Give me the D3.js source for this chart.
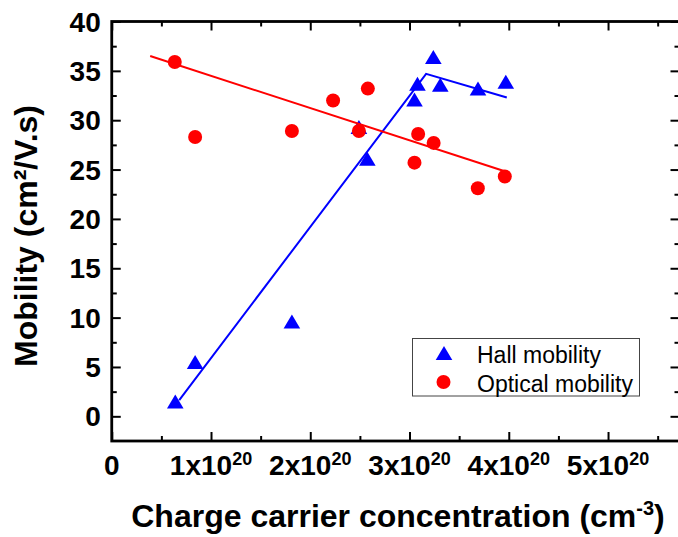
<!DOCTYPE html>
<html><head><meta charset="utf-8">
<script src="https://cdn.jsdelivr.net/npm/d3@7"></script>
<style>html,body{margin:0;padding:0;background:#fff;}svg{display:block;}</style>
</head><body>
<svg id="chart" width="678" height="537"></svg>
<script>
// Data (x in units of 1e20 cm^-3, y in cm²/V.s)
const hallX = [0.64, 0.84, 1.815, 2.49, 2.575, 3.05, 3.08, 3.24, 3.31, 3.69, 3.97];
const hallY = [1.5, 5.5, 9.6, 29.3, 26.1, 32.1, 33.7, 36.4, 33.6, 33.2, 33.9];
const optX = [0.635, 0.84, 1.815, 2.23, 2.49, 2.58, 3.05, 3.087, 3.243, 3.688, 3.96];
const optY = [35.9, 28.3, 28.9, 32.0, 28.9, 33.2, 25.7, 28.6, 27.7, 23.1, 24.3];
const hallFitX = [0.68, 3.167, 3.98];
const hallFitY = [1.65, 34.7, 32.3];
const optFitX = [0.387, 3.967];
const optFitY = [36.5, 24.8];
const xTicks = [0, 1, 2, 3, 4, 5];
const xTickLabels = ["0", "1x10|20", "2x10|20", "3x10|20", "4x10|20", "5x10|20"];
const yTicks = [0, 5, 10, 15, 20, 25, 30, 35, 40];
const legendLabels = ["Hall mobility", "Optical mobility"];

const svg = d3.select("#chart");
const pL = 111.75, pR = 679.5, pT = 21.5, pB = 441;
const x = d3.scaleLinear().domain([0, 5.72]).range([pL, pR]);
const y = d3.scaleLinear().domain([-2.5, 40]).range([pB, pT]);
const FONT = "'Liberation Sans', Arial, sans-serif";

const majX = d3.range(0, 5.6, 1), minX = d3.range(0.5, 5.6, 1);
const majY = d3.range(0, 40.1, 5), minY = d3.range(2.5, 40, 5);

const g = svg.append("g");
function axisG(axis, tr) {
  const a = g.append("g").attr("transform", tr).call(axis);
  a.select(".domain").remove();
  a.selectAll("text").remove();
  a.selectAll("line").attr("stroke", "#000").attr("stroke-width", 2);
}
axisG(d3.axisBottom(x).tickValues(majX).tickSize(-9), `translate(0,${pB})`);
axisG(d3.axisBottom(x).tickValues(minX).tickSize(-5), `translate(0,${pB})`);
axisG(d3.axisTop(x).tickValues(majX).tickSize(-9), `translate(0,${pT})`);
axisG(d3.axisTop(x).tickValues(minX).tickSize(-5), `translate(0,${pT})`);
axisG(d3.axisLeft(y).tickValues(majY).tickSize(-9), `translate(${pL},0)`);
axisG(d3.axisLeft(y).tickValues(minY).tickSize(-5), `translate(${pL},0)`);
axisG(d3.axisRight(y).tickValues(majY).tickSize(-9), `translate(${pR},0)`);
axisG(d3.axisRight(y).tickValues(minY).tickSize(-5), `translate(${pR},0)`);

g.append("rect").attr("x", pL).attr("y", pT).attr("width", pR - pL).attr("height", pB - pT)
  .attr("fill", "none").attr("stroke", "#000").attr("stroke-width", 2.8);

g.selectAll(".yl").data(yTicks).enter().append("text")
  .attr("x", pL - 11).attr("y", d => y(d)).attr("dy", "0.36em")
  .attr("text-anchor", "end").attr("font-family", FONT).attr("font-weight", "bold")
  .attr("font-size", 28).text(d => d);

xTicks.forEach((v, i) => {
  const parts = xTickLabels[i].split("|");
  const t = g.append("text").attr("x", x(v)).attr("y", 475).attr("text-anchor", "middle")
    .attr("font-family", FONT).attr("font-weight", "bold").attr("font-size", 28);
  t.append("tspan").text(parts[0]);
  if (parts[1]) t.append("tspan").attr("dy", -10.5).attr("font-size", 18).text(parts[1]);
});

const xt = g.append("text").attr("x", 398).attr("y", 527).attr("text-anchor", "middle")
  .attr("font-family", FONT).attr("font-weight", "bold").attr("font-size", 32);
xt.append("tspan").text("Charge carrier concentration (cm");
xt.append("tspan").attr("dy", -12).attr("font-size", 20).text("-3");
xt.append("tspan").attr("dy", 12).text(")");

g.append("text").attr("transform", "translate(37,236) rotate(-90)").attr("text-anchor", "middle")
  .attr("font-family", FONT).attr("font-weight", "bold").attr("font-size", 32)
  .text("Mobility (cm²/V.s)");

const tri = "M0,-7L8.3,7L-8.3,7Z";
g.selectAll(".hall").data(hallX.map((v, i) => [v, hallY[i]])).enter().append("path")
  .attr("d", tri).attr("fill", "#0000ff")
  .attr("transform", d => `translate(${x(d[0])},${y(d[1])})`);
g.selectAll(".opt").data(optX.map((v, i) => [v, optY[i]])).enter().append("circle")
  .attr("cx", d => x(d[0])).attr("cy", d => y(d[1])).attr("r", 7).attr("fill", "#ff0000");

const line = d3.line().x(d => x(d[0])).y(d => y(d[1]));
g.append("path").datum(hallFitX.map((v, i) => [v, hallFitY[i]])).attr("d", line)
  .attr("fill", "none").attr("stroke", "#0000ff").attr("stroke-width", 2);
g.append("path").datum(optFitX.map((v, i) => [v, optFitY[i]])).attr("d", line)
  .attr("fill", "none").attr("stroke", "#ff0000").attr("stroke-width", 2);

const lg = g.append("g");
lg.append("rect").attr("x", 412.5).attr("y", 338.5).attr("width", 227).attr("height", 57.5)
  .attr("fill", "#fff").attr("stroke", "#444").attr("stroke-width", 1);
lg.append("path").attr("d", tri).attr("fill", "#0000ff").attr("transform", "translate(444,353)");
lg.append("circle").attr("cx", 443.5).attr("cy", 382).attr("r", 7).attr("fill", "#ff0000");
legendLabels.forEach((t, i) => {
  lg.append("text").attr("x", 477).attr("y", 363 + i * 28.5).attr("font-family", FONT)
    .attr("font-size", 23).text(t);
});
</script>
</body></html>
